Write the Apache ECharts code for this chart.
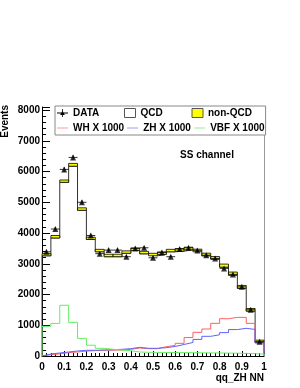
<!DOCTYPE html>
<html>
<head>
<meta charset="utf-8">
<script src="https://cdn.jsdelivr.net/npm/echarts@6/dist/echarts.min.js"></script>
<style>html,body{margin:0;padding:0;background:#fff}#c{width:300px;height:388px}</style>
</head>
<body>
<div id="c"></div>
<script>
// 25 bins of width 0.04 on qq_ZH NN from 0 to 1
var binLo = [0.00,0.04,0.08,0.12,0.16,0.20,0.24,0.28,0.32,0.36,0.40,0.44,0.48,0.52,0.56,0.60,0.64,0.68,0.72,0.76,0.80,0.84,0.88,0.92,0.96];
var binHi = [0.04,0.08,0.12,0.16,0.20,0.24,0.28,0.32,0.36,0.40,0.44,0.48,0.52,0.56,0.60,0.64,0.68,0.72,0.76,0.80,0.84,0.88,0.92,0.96,1.00];
var dataVals = [3390,4130,6070,6460,5000,3920,3330,3445,3445,3230,3500,3520,3195,3370,3230,3480,3520,3435,3280,3175,2850,2655,2250,1505,465];
var qcdVals = [3260,3840,5650,6175,4740,3790,3390,3230,3230,3340,3435,3325,3260,3305,3390,3410,3455,3390,3260,3150,2890,2630,2200,1460,445];
var nonQcdVals = [70,80,75,90,80,75,80,80,80,80,80,80,80,80,80,85,85,85,85,85,100,100,95,85,70];
var whVals = [40,70,110,130,160,175,185,190,195,217,260,238,238,303,345,412,600,770,878,1062,1213,1257,1257,1062,470];
var zhVals = [65,98,130,163,185,185,195,205,217,238,282,250,250,270,310,375,440,540,640,690,760,860,900,865,420];
var vbfVals = [965,1060,1650,1095,575,350,250,218,195,173,130,120,118,115,112,110,108,105,100,98,95,90,85,75,60];
var xTicks = {min:0, max:1, interval:0.1};
var yTicks = {min:0, max:8100, interval:1000};

function stepData(vals){
  var d = [[binLo[0], 0]];
  for (var i = 0; i < vals.length; i++) d.push([binLo[i], vals[i]]);
  d.push([binHi[vals.length-1], vals[vals.length-1]]);
  d.push([binHi[vals.length-1], 0]);
  return d;
}
var bandData = qcdVals.map(function(q,i){ return [binLo[i], binHi[i], q, q + nonQcdVals[i]]; });
var errData = dataVals.map(function(v,i){ return [(binLo[i]+binHi[i])/2, binLo[i], binHi[i], v]; });
var ptData = dataVals.map(function(v,i){ return [(binLo[i]+binHi[i])/2, v]; });

var F = 'Liberation Sans, Arial, Helvetica, sans-serif';
var LINE_ICON = 'path://M0,4.2 L14,4.2 L14,5.8 L0,5.8 Z';
var chart = echarts.init(document.getElementById('c'), null, {renderer:'canvas'});
chart.setOption({
  animation:false,
  backgroundColor:'#fff',
  grid:{left:42, right:36, top:107, bottom:32, containLabel:false},
  xAxis:{type:'value', min:xTicks.min, max:xTicks.max, interval:xTicks.interval,
    axisLine:{show:true, lineStyle:{color:'#000', width:1}}, splitLine:{show:false},
    axisLabel:{color:'#000', fontFamily:F, fontWeight:'bold', fontSize:10, margin:6,
      formatter:function(v){ return String(+v.toFixed(1)); }},
    axisTick:{show:true, inside:true, length:5, lineStyle:{color:'#000'}},
    minorTick:{show:true, splitNumber:5, length:3, lineStyle:{color:'#000'}}
  },
  yAxis:[{type:'value', min:yTicks.min, max:yTicks.max, interval:yTicks.interval,
    axisLine:{show:true, lineStyle:{color:'#000', width:1}}, splitLine:{show:false},
    axisLabel:{color:'#000', fontFamily:F, fontWeight:'bold', fontSize:10, margin:2,
      formatter:function(v){ return String(Math.round(v)); }},
    axisTick:{show:true, inside:true, length:8, lineStyle:{color:'#000'}},
    minorTick:{show:true, splitNumber:5, length:4, lineStyle:{color:'#000'}}
  },{type:'value', position:'right', min:yTicks.min, max:yTicks.max, interval:yTicks.interval,
    axisLine:{show:true, lineStyle:{color:'#999'}}, axisTick:{show:false}, axisLabel:{show:false}, splitLine:{show:false}
  }],
  legend:{
    left:55, top:106, width:212, orient:'horizontal',
    padding:[1,1,1,2], itemGap:3, itemWidth:11, itemHeight:9,
    backgroundColor:'#fff', borderColor:'#888', borderWidth:1,
    textStyle:{fontFamily:F, fontWeight:'bold', fontSize:10, color:'#000', width:48, lineHeight:12, overflow:'none'},
    data:[
      {name:'DATA', icon:'path://M0,4.5 L14,4.5 L14,5.5 L0,5.5 Z M6.5,0 L7.5,0 L7.5,10 L6.5,10 Z M7,2 L10,7.5 L4,7.5 Z', itemStyle:{color:'#000'}},
      {name:'QCD', icon:'rect', itemStyle:{color:'#fff', borderColor:'#555', borderWidth:1}},
      {name:'non-QCD', icon:'rect', itemStyle:{color:'#ff0', borderColor:'#555', borderWidth:1}},
      {name:'WH X 1000', icon:LINE_ICON, itemStyle:{color:'#ffb0b0'}},
      {name:'ZH X 1000', icon:LINE_ICON, itemStyle:{color:'#b0b0ff'}},
      {name:'VBF X 1000', icon:LINE_ICON, itemStyle:{color:'#b0f0b0'}}
    ]
  },
  graphic:[
    {type:'text', x:5.5, y:105, rotation:Math.PI/2,
     style:{text:'Events', fill:'#000', font:'bold 10px '+F, align:'right', verticalAlign:'middle'}},
    {type:'text', x:264, y:378, style:{text:'qq_ZH NN', fill:'#000', font:'bold 10px '+F, align:'right', verticalAlign:'middle'}},
    {type:'text', x:207, y:155.5, style:{text:'SS channel', fill:'#000', font:'bold 10px '+F, align:'center', verticalAlign:'middle'}}
  ],
  series:[
    {name:'QCD', type:'line', step:'end', symbol:'none', data:stepData(qcdVals),
     lineStyle:{color:'#333', width:1}, itemStyle:{color:'#fff'}, z:2},
    {name:'non-QCD', type:'custom', data:bandData, encode:{x:[0,1], y:[2,3]}, z:3,
     itemStyle:{color:'#ff0'},
     renderItem:function(params, api){
       var p1 = api.coord([api.value(0), api.value(3)]);
       var p2 = api.coord([api.value(1), api.value(2)]);
       return {type:'rect', shape:{x:p1[0], y:p1[1], width:p2[0]-p1[0], height:p2[1]-p1[1]},
         style:{fill:'#ff0', stroke:'#000', lineWidth:0.8}};
     }},
    {name:'WH X 1000', type:'line', step:'end', symbol:'none', data:stepData(whVals),
     lineStyle:{color:'#ff6060', width:1}, itemStyle:{color:'#ff6060'}, z:4},
    {name:'ZH X 1000', type:'line', step:'end', symbol:'none', data:stepData(zhVals),
     lineStyle:{color:'#6060ff', width:1}, itemStyle:{color:'#6060ff'}, z:4},
    {name:'VBF X 1000', type:'line', step:'end', symbol:'none', data:stepData(vbfVals),
     lineStyle:{color:'#60f060', width:1}, itemStyle:{color:'#60f060'}, z:4},
    {name:'DATA', type:'custom', data:errData, encode:{x:0, y:3}, z:5,
     renderItem:function(params, api){
       var v = api.value(3);
       var a = api.coord([api.value(1), v]);
       var b = api.coord([api.value(2), v]);
       var c = api.coord([api.value(0), v + Math.sqrt(v)]);
       var d = api.coord([api.value(0), v - Math.sqrt(v)]);
       return {type:'group', children:[
         {type:'line', shape:{x1:a[0], y1:a[1], x2:b[0], y2:b[1]}, style:{stroke:'#000', lineWidth:0.8}},
         {type:'line', shape:{x1:c[0], y1:c[1], x2:d[0], y2:d[1]}, style:{stroke:'#000', lineWidth:0.8}}
       ]};
     }},
    {name:'DATA', type:'scatter', data:ptData, symbol:'triangle', symbolSize:6,
     itemStyle:{color:'#000'}, z:6}
  ]
});
</script>
</body>
</html>
